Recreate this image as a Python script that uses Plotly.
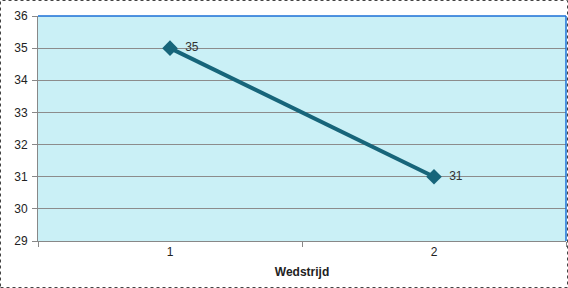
import plotly.graph_objects as go

categories = ["1", "2"]
values = [35, 31]
y_ticks = [29, 30, 31, 32, 33, 34, 35, 36]

W, H = 568, 288
L, R, T, B = 38, 2, 16, 47
pw, ph = W - L - R, H - T - B

fig = go.Figure()
fig.add_trace(go.Scatter(
    x=categories, y=values,
    mode="lines+markers+text",
    text=["  " + str(v) for v in values],
    textposition="middle right",
    textfont=dict(family="Liberation Sans, Arial", size=12, color="#333333"),
    line=dict(color="#17657a", width=4),
    marker=dict(symbol="diamond", size=12, color="#17657a"),
    cliponaxis=False,
    showlegend=False,
))

fig.update_layout(
    width=W, height=H,
    margin=dict(l=L, r=R, t=T, b=B),
    paper_bgcolor="white",
    plot_bgcolor="#caf0f6",
    font=dict(family="Liberation Sans, Arial", size=12, color="#222222"),
    xaxis=dict(
        type="category", range=[-0.5, 1.5],
        tickson="boundaries", ticks="outside", ticklen=5, tickcolor="#888888",
        showgrid=False, showline=True, linecolor="#888888", linewidth=1,
        title=dict(text="<b>Wedstrijd</b>", font=dict(size=12), standoff=9),
        zeroline=False,
    ),
    yaxis=dict(
        range=[29, 36], tickvals=y_ticks, ticks="outside", ticklen=5,
        tickcolor="#888888", showgrid=True, gridcolor="#8c8c8c", gridwidth=1,
        showline=True, linecolor="#888888", linewidth=1, zeroline=False,
        ticklabelstandoff=2,
    ),
    shapes=[
        dict(type="line", xref="paper", yref="paper", x0=0, x1=1, y0=1, y1=1,
             line=dict(color="#1a6fd6", width=1.5)),
        dict(type="line", xref="paper", yref="paper", x0=1, x1=1, y0=0, y1=1,
             line=dict(color="#1a6fd6", width=1.5)),
        dict(type="rect", xref="paper", yref="paper",
             x0=(0.5 - L) / pw, x1=(W - 0.5 - L) / pw,
             y0=-(B - 0.5) / ph, y1=1 + (T - 0.5) / ph,
             line=dict(color="#444444", width=1, dash="dot"), layer="above"),
    ],
)

fig.write_html("out.html")
